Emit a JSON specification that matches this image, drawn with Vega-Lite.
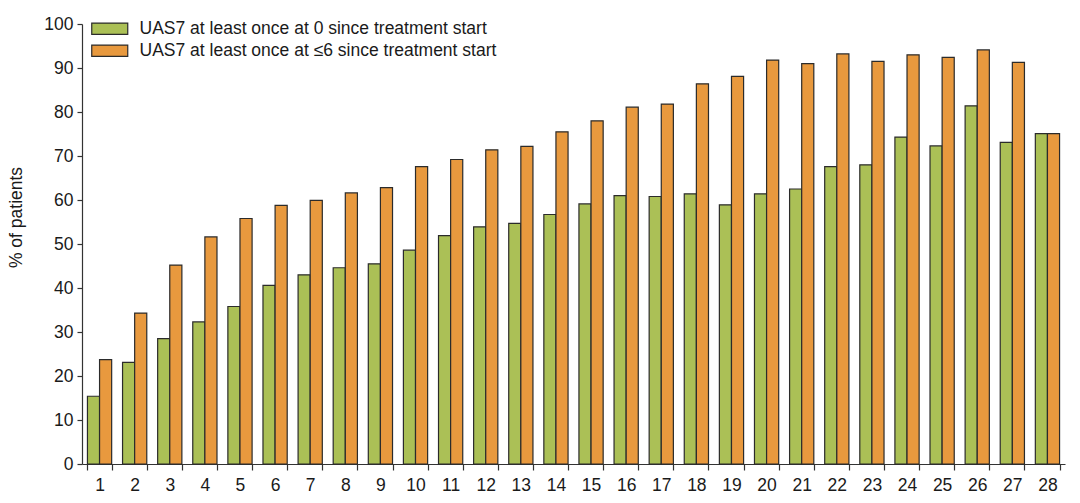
{
  "$schema": "https://vega.github.io/schema/vega-lite/v6.json",
  "autosize": {"type": "none"},
  "width": 983,
  "height": 440,
  "padding": {"left": 82, "top": 24, "right": 15, "bottom": 39},
  "background": "white",
  "config": {
    "view": {"stroke": null},
    "font": "Liberation Sans",
    "axis": {
      "labelFont": "Liberation Sans",
      "titleFont": "Liberation Sans",
      "labelColor": "#1a1a1a",
      "titleColor": "#1a1a1a",
      "domainColor": "#333333",
      "tickColor": "#333333",
      "grid": false
    }
  },
  "data": {
    "values": [
      {"week": 1, "series": "zero", "pct": 15.4}, {"week": 1, "series": "six", "pct": 23.7},
      {"week": 2, "series": "zero", "pct": 23.1}, {"week": 2, "series": "six", "pct": 34.3},
      {"week": 3, "series": "zero", "pct": 28.5}, {"week": 3, "series": "six", "pct": 45.2},
      {"week": 4, "series": "zero", "pct": 32.3}, {"week": 4, "series": "six", "pct": 51.6},
      {"week": 5, "series": "zero", "pct": 35.8}, {"week": 5, "series": "six", "pct": 55.8},
      {"week": 6, "series": "zero", "pct": 40.6}, {"week": 6, "series": "six", "pct": 58.8},
      {"week": 7, "series": "zero", "pct": 43.0}, {"week": 7, "series": "six", "pct": 59.9},
      {"week": 8, "series": "zero", "pct": 44.6}, {"week": 8, "series": "six", "pct": 61.6},
      {"week": 9, "series": "zero", "pct": 45.5}, {"week": 9, "series": "six", "pct": 62.8},
      {"week": 10, "series": "zero", "pct": 48.6}, {"week": 10, "series": "six", "pct": 67.6},
      {"week": 11, "series": "zero", "pct": 51.9}, {"week": 11, "series": "six", "pct": 69.2},
      {"week": 12, "series": "zero", "pct": 53.9}, {"week": 12, "series": "six", "pct": 71.4},
      {"week": 13, "series": "zero", "pct": 54.7}, {"week": 13, "series": "six", "pct": 72.2},
      {"week": 14, "series": "zero", "pct": 56.7}, {"week": 14, "series": "six", "pct": 75.5},
      {"week": 15, "series": "zero", "pct": 59.1}, {"week": 15, "series": "six", "pct": 78.0},
      {"week": 16, "series": "zero", "pct": 61.0}, {"week": 16, "series": "six", "pct": 81.1},
      {"week": 17, "series": "zero", "pct": 60.8}, {"week": 17, "series": "six", "pct": 81.8},
      {"week": 18, "series": "zero", "pct": 61.4}, {"week": 18, "series": "six", "pct": 86.4},
      {"week": 19, "series": "zero", "pct": 58.9}, {"week": 19, "series": "six", "pct": 88.1},
      {"week": 20, "series": "zero", "pct": 61.4}, {"week": 20, "series": "six", "pct": 91.8},
      {"week": 21, "series": "zero", "pct": 62.5}, {"week": 21, "series": "six", "pct": 91.0},
      {"week": 22, "series": "zero", "pct": 67.6}, {"week": 22, "series": "six", "pct": 93.2},
      {"week": 23, "series": "zero", "pct": 68.0}, {"week": 23, "series": "six", "pct": 91.5},
      {"week": 24, "series": "zero", "pct": 74.3}, {"week": 24, "series": "six", "pct": 93.0},
      {"week": 25, "series": "zero", "pct": 72.3}, {"week": 25, "series": "six", "pct": 92.4},
      {"week": 26, "series": "zero", "pct": 81.4}, {"week": 26, "series": "six", "pct": 94.1},
      {"week": 27, "series": "zero", "pct": 73.1}, {"week": 27, "series": "six", "pct": 91.3},
      {"week": 28, "series": "zero", "pct": 75.1}, {"week": 28, "series": "six", "pct": 75.1}
    ]
  },
  "mark": {"type": "bar", "stroke": "#2b2b2b", "strokeWidth": 1.2},
  "encoding": {
    "x": {
      "field": "week",
      "type": "ordinal",
      "scale": {"paddingInner": 0.31, "paddingOuter": 0.155},
      "axis": {
        "title": null,
        "labelAngle": 0,
        "labelFontSize": 17.5,
        "labelPadding": 6,
        "tickBand": "extent",
        "tickSize": 6,
        "domainWidth": 1.2,
        "tickWidth": 1.2
      }
    },
    "xOffset": {
      "field": "series",
      "type": "nominal",
      "sort": ["zero", "six"],
      "scale": {"paddingInner": 0, "paddingOuter": 0}
    },
    "y": {
      "field": "pct",
      "type": "quantitative",
      "scale": {"domain": [0, 100], "nice": false},
      "axis": {
        "title": "% of patients",
        "titleFontSize": 17.5,
        "titleFontWeight": "normal",
        "titleX": -57,
        "titleY": 193,
        "titleAngle": -90,
        "titleAlign": "center",
        "titleBaseline": "bottom",
        "values": [0, 10, 20, 30, 40, 50, 60, 70, 80, 90, 100],
        "labelFontSize": 17.5,
        "labelPadding": 4,
        "tickSize": 5,
        "domainWidth": 1.2,
        "tickWidth": 1.2
      }
    },
    "color": {
      "field": "series",
      "type": "nominal",
      "scale": {"domain": ["zero", "six"], "range": ["#abc056", "#e8993e"]},
      "legend": {
        "title": null,
        "orient": "none",
        "legendX": 19,
        "legendY": -4,
        "labelExpr": "datum.value == 'zero' ? 'UAS7 at least once at 0 since treatment start' : 'UAS7 at least once at ≤6 since treatment start'",
        "labelFontSize": 17.5,
        "labelColor": "#1a1a1a",
        "labelLimit": 0,
        "labelOffset": 21,
        "symbolType": "M-3,-0.95H3V0.95H-3Z",
        "symbolSize": 144,
        "symbolStrokeColor": "#2b2b2b",
        "symbolStrokeWidth": 1.2,
        "symbolOpacity": 1,
        "rowPadding": 3
      }
    }
  }
}
